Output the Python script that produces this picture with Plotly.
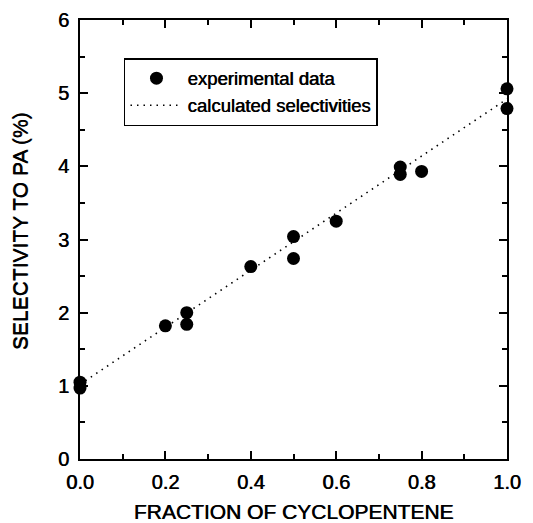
import plotly.graph_objects as go

# experimental data
frac_exp = [0.0, 0.0, 0.2, 0.25, 0.25, 0.4, 0.5, 0.5, 0.6, 0.75, 0.75, 0.8, 1.0, 1.0]
sel_exp = [1.05, 0.97, 1.82, 2.0, 1.84, 2.63, 3.04, 2.74, 3.25, 3.99, 3.89, 3.93, 5.06, 4.79]

# calculated selectivities (straight line)
frac_calc = [0.0, 1.0]
sel_calc = [1.02, 4.92]

x_ticks = [0.0, 0.2, 0.4, 0.6, 0.8, 1.0]
x_ticklabels = ["0.0", "0.2", "0.4", "0.6", "0.8", "1.0"]
y_ticks = [0, 1, 2, 3, 4, 5, 6]

FONT = "Liberation Sans, Arial, sans-serif"
SHADOW = "0.6px 0px 0px black"
TXT = dict(family=FONT, color="black", shadow=SHADOW)

fig = go.Figure()
fig.add_trace(go.Scatter(
    x=frac_exp, y=sel_exp, mode="markers", name="experimental data",
    marker=dict(color="black", size=13), cliponaxis=False,
))
fig.add_trace(go.Scatter(
    x=frac_calc, y=sel_calc, mode="lines", name="calculated selectivities",
    line=dict(color="black", width=1.6, dash="1.5px,5px"),
))

axis_common = dict(
    showgrid=False, zeroline=False, showline=True, linecolor="black", linewidth=2,
    mirror="ticks", ticks="inside", ticklen=8, tickwidth=1.6, tickcolor="black",
    automargin=False,
)

fig.update_xaxes(
    range=[0, 1.0], tickvals=x_ticks, ticktext=x_ticklabels,
    tickfont=dict(size=20, **TXT), ticklabelstandoff=4,
    title=dict(text="FRACTION OF CYCLOPENTENE", font=dict(size=21, **TXT), standoff=17),
    minor=dict(dtick=0.1, tick0=0, ticks="inside", ticklen=5, tickwidth=1.6, tickcolor="black"),
    **axis_common,
)
fig.update_yaxes(
    range=[0, 6], tickvals=y_ticks,
    tickfont=dict(size=20, **TXT), ticklabelstandoff=5,
    minor=dict(dtick=0.5, tick0=0, ticks="inside", ticklen=5, tickwidth=1.6, tickcolor="black"),
    **axis_common,
)

fig.add_annotation(
    text="SELECTIVITY TO PA (%)", textangle=-90, showarrow=False,
    xref="paper", yref="paper", x=-0.14, y=0.52, xanchor="center", yanchor="middle",
    font=dict(size=21, family=FONT, color="black", shadow="0px 0.6px 0px black"),
)

fig.update_layout(
    width=533, height=523,
    margin=dict(l=80, r=26, t=20, b=64),
    paper_bgcolor="white", plot_bgcolor="white",
    showlegend=True,
    legend=dict(
        x=0.103, y=0.913, xanchor="left", yanchor="top",
        bordercolor="black", borderwidth=1.5, bgcolor="white",
        font=dict(family=FONT, size=18.5, color="black", shadow=SHADOW),
        itemwidth=52, tracegroupgap=0,
    ),
)

fig.write_html("out.html")
